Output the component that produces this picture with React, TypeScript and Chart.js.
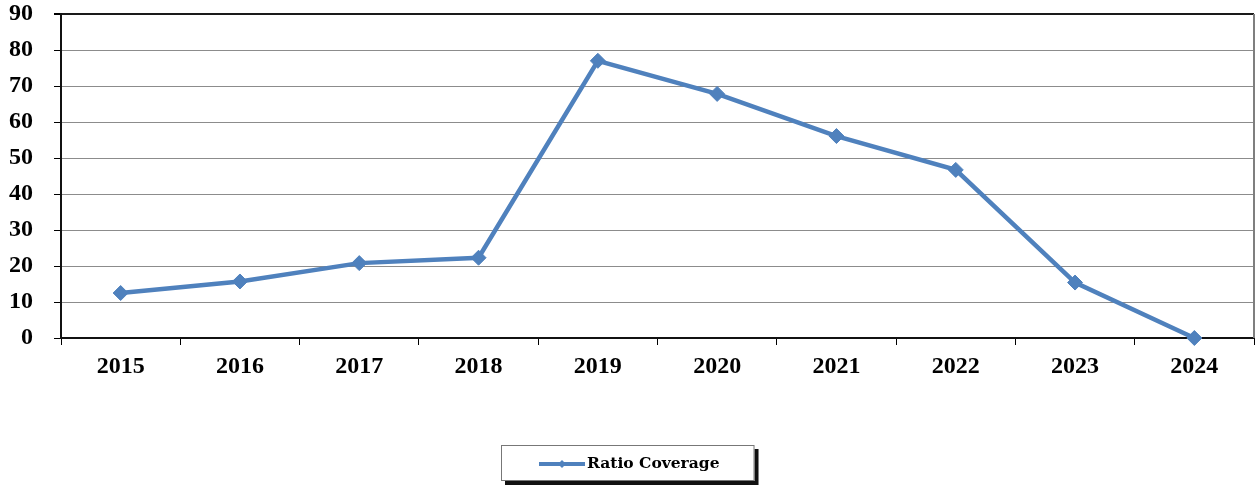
import React, { useEffect, useRef } from "react";
import { Chart, registerables } from "chart.js";

Chart.register(...registerables);

const years = ["2015", "2016", "2017", "2018", "2019", "2020", "2021", "2022", "2023", "2024"];
const ratioCoverage = [12.5, 15.7, 20.8, 22.3, 77.0, 67.8, 56.1, 46.7, 15.4, 0];
const seriesLabel = "Ratio Coverage";
const yMin = 0;
const yMax = 90;
const yStep = 10;

const SERIF = '"Liberation Serif", "Times New Roman", serif';
const LEGEND_FONT = '"DejaVu Serif", Georgia, serif';
const BLUE = "#4F81BD";

const frameAndLegend = {
  id: "frameAndLegend",
  afterDraw(chart: any) {
    const { ctx, chartArea } = chart;
    ctx.save();
    // right border of plot area
    ctx.strokeStyle = "#7f7f7f";
    ctx.lineWidth = 2;
    ctx.beginPath();
    ctx.moveTo(chartArea.right, chartArea.top);
    ctx.lineTo(chartArea.right, chartArea.bottom);
    ctx.stroke();

    // legend
    ctx.font = "bold 15.5px " + LEGEND_FONT;
    const textW = ctx.measureText(seriesLabel).width;
    const lineW = 46;
    const gap = 2;
    const padX = 38;
    const boxW = padX + lineW + gap + textW + 35;
    const boxH = 36;
    const cx = chart.width / 2;
    const bx = Math.round(cx - boxW / 2);
    const by = 445;
    ctx.fillStyle = "#111";
    ctx.fillRect(bx + 4, by + 4, boxW, boxH);
    ctx.fillStyle = "#fff";
    ctx.fillRect(bx, by, boxW, boxH);
    ctx.strokeStyle = "#777";
    ctx.lineWidth = 1;
    ctx.strokeRect(bx + 0.5, by + 0.5, boxW - 1, boxH - 1);
    const ly = by + boxH / 2 + 1;
    const lx = bx + padX;
    ctx.strokeStyle = BLUE;
    ctx.lineWidth = 4;
    ctx.beginPath();
    ctx.moveTo(lx, ly);
    ctx.lineTo(lx + lineW, ly);
    ctx.stroke();
    ctx.fillStyle = BLUE;
    const mx = lx + lineW / 2;
    const r = 4;
    ctx.beginPath();
    ctx.moveTo(mx, ly - r);
    ctx.lineTo(mx + r, ly);
    ctx.lineTo(mx, ly + r);
    ctx.lineTo(mx - r, ly);
    ctx.closePath();
    ctx.fill();
    ctx.fillStyle = "#000";
    ctx.textBaseline = "middle";
    ctx.textAlign = "left";
    ctx.fillText(seriesLabel, lx + lineW + gap, ly);
    ctx.restore();
  },
};

export default function App() {
  const canvasRef = useRef<HTMLCanvasElement | null>(null);

  useEffect(() => {
    const canvas = canvasRef.current;
    if (!canvas) return;
    const chart = new Chart(canvas, {
      type: "line",
      data: {
        labels: years,
        datasets: [
          {
            label: seriesLabel,
            data: ratioCoverage,
            borderColor: BLUE,
            backgroundColor: BLUE,
            borderWidth: 4.5,
            pointStyle: "rectRot",
            pointRadius: 7.5,
            pointHoverRadius: 7.5,
            pointBorderWidth: 1,
            tension: 0,
            clip: false,
          },
        ],
      },
      options: {
        responsive: false,
        animation: false,
        layout: { autoPadding: false, padding: { top: 14, right: 1, left: 0, bottom: 0 } },
        plugins: {
          legend: { display: false },
          tooltip: { enabled: false },
          title: { display: false },
        },
        scales: {
          x: {
            type: "category",
            offset: true,
            grid: {
              offset: true,
              drawOnChartArea: false,
              drawTicks: true,
              tickLength: 7,
              color: "#000",
              lineWidth: 1,
            },
            border: { color: "#111", width: 2 },
            ticks: {
              color: "#000",
              font: { family: SERIF, weight: "bold", size: 24 },
              padding: 7,
              maxRotation: 0,
              autoSkip: false,
            },
            afterFit: (s: any) => {
              s.height = 149;
              s.paddingLeft = 0;
              s.paddingRight = 0;
            },
          },
          y: {
            min: yMin,
            max: yMax,
            grid: {
              color: (c: any) => (c.tick && c.tick.value === yMax ? "#1a1a1a" : "#8c8c8c"),
              tickColor: "#000",
              tickLength: 7,
              lineWidth: (c: any) => (c.tick && c.tick.value === yMax ? 2 : 1),
            },
            border: { color: "#111", width: 2 },
            ticks: {
              stepSize: yStep,
              color: "#000",
              font: { family: SERIF, weight: "bold", size: 24 },
              padding: 21,
            },
            afterFit: (s: any) => {
              s.width = 61;
              s.paddingTop = 0;
              s.paddingBottom = 0;
            },
          },
        },
      },
      plugins: [frameAndLegend],
    });
    return () => chart.destroy();
  }, []);

  return (
    <div style={{ position: "fixed", left: 0, top: 0, width: 1255, height: 487, background: "#fff" }}>
      <canvas ref={canvasRef} width={1255} height={487} style={{ display: "block" }} />
    </div>
  );
}
